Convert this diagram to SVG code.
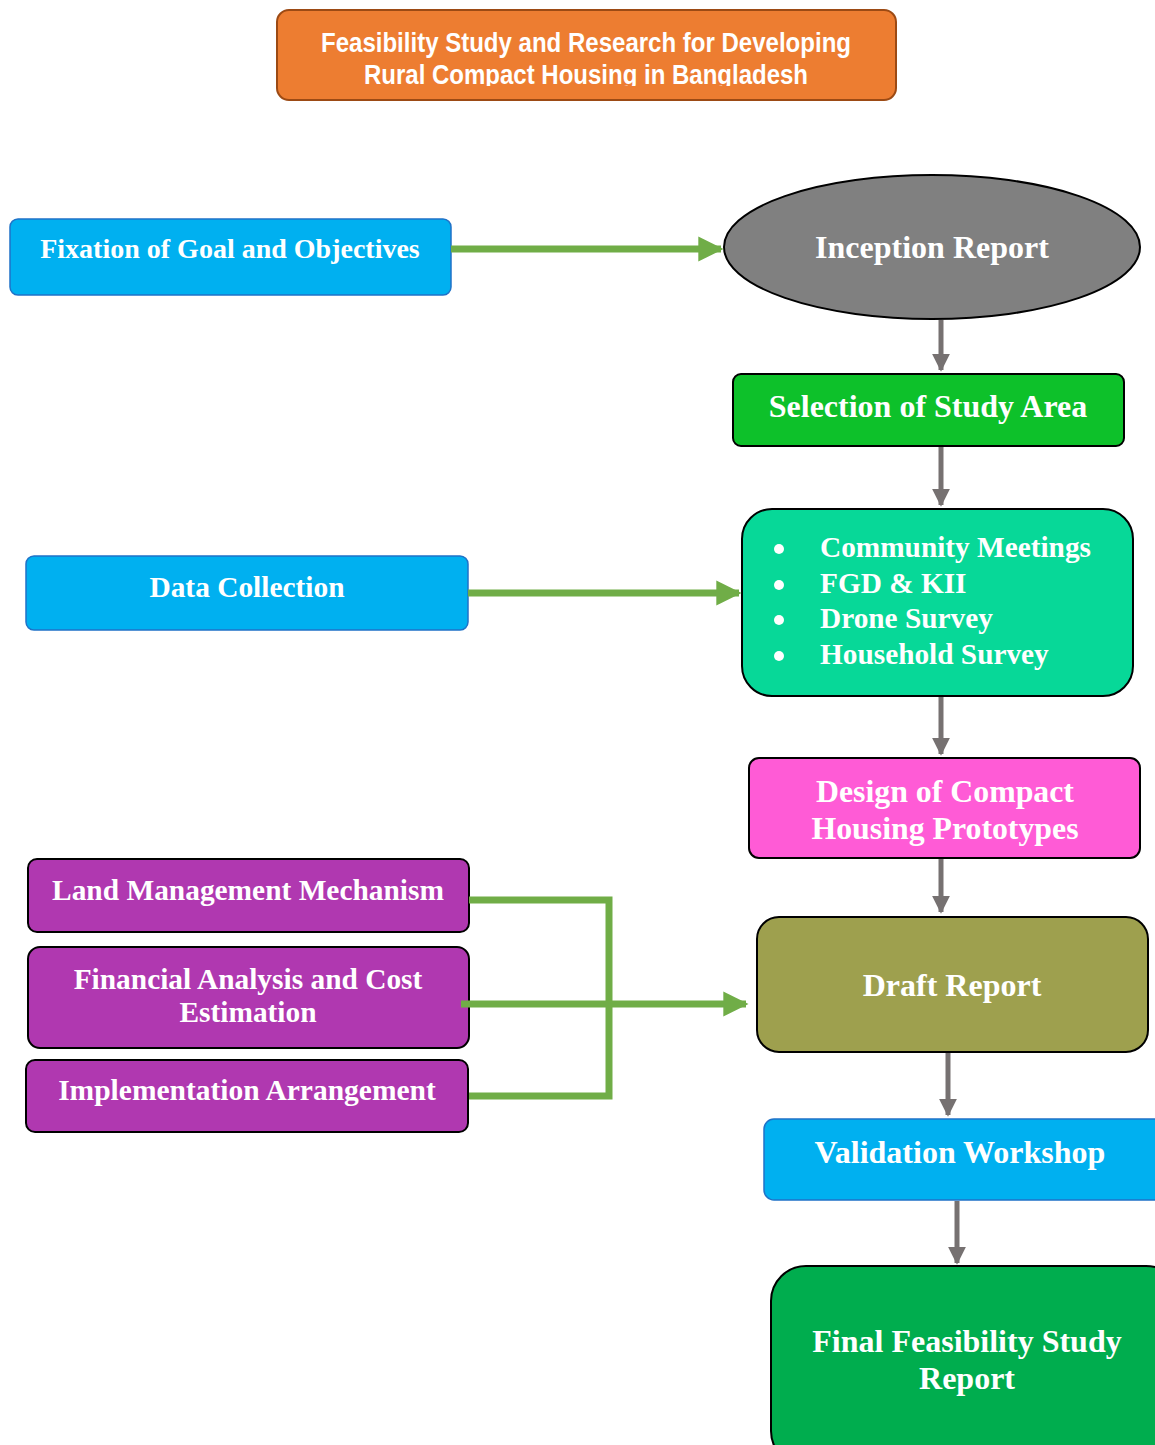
<svg xmlns="http://www.w3.org/2000/svg" width="1155" height="1445" viewBox="0 0 1155 1445">
<defs>
<style>
.t{font-family:"Liberation Serif","Times New Roman",serif;font-weight:bold;fill:#fff;text-anchor:middle}
.g{stroke:#70AD47;stroke-width:7;fill:none}
.k{stroke:#767171;stroke-width:5;fill:none}
.blue{fill:#00B0F0;stroke:#1F72C8;stroke-width:1.5}
.pur{fill:#B038B0;stroke:#000;stroke-width:2}
</style>
<marker id="ag" viewBox="0 0 10 10" refX="9" refY="5" markerWidth="3.6" markerHeight="3.6" orient="auto" markerUnits="strokeWidth"><path d="M0,0L10,5L0,10z" fill="#70AD47"/></marker>
<marker id="ak" viewBox="0 0 10 10" refX="9" refY="5" markerWidth="3.6" markerHeight="3.6" orient="auto" markerUnits="strokeWidth"><path d="M0,0L10,5L0,10z" fill="#767171"/></marker>
<clipPath id="tc"><rect x="277" y="10" width="619" height="76"/></clipPath>
</defs>
<rect width="1155" height="1445" fill="#fff"/>
<g id="title">
<rect x="277" y="10" width="619" height="90" rx="12" fill="#ED7D31" stroke="#9C4A14" stroke-width="2"/>
<g clip-path="url(#tc)" font-family="'Liberation Sans Narrow','Liberation Sans',Arial,sans-serif" font-weight="bold" font-size="27" fill="#fff" text-anchor="middle">
<text x="586" y="52" textLength="530" lengthAdjust="spacingAndGlyphs">Feasibility Study and Research for Developing</text>
<text x="586" y="84" textLength="444" lengthAdjust="spacingAndGlyphs">Rural Compact Housing in Bangladesh</text>
</g>
</g>
<g id="fixation">
<rect class="blue" x="10" y="219" width="441" height="76" rx="8"/>
<text class="t" x="230" y="258" font-size="28">Fixation of Goal and Objectives</text>
</g>
<g id="inception">
<ellipse cx="932" cy="247" rx="208" ry="72" fill="#808080" stroke="#000" stroke-width="2"/>
<text class="t" x="932" y="258" font-size="32">Inception Report</text>
</g>
<g id="selection">
<rect x="733" y="374" width="391" height="72" rx="8" fill="#0DC12A" stroke="#000" stroke-width="2"/>
<text class="t" x="928" y="417" font-size="32">Selection of Study Area</text>
</g>
<g id="methods">
<rect x="742" y="509" width="391" height="187" rx="30" fill="#07D898" stroke="#000" stroke-width="2"/>
<g fill="#fff"><circle cx="779" cy="549" r="5"/><circle cx="779" cy="585" r="5"/><circle cx="779" cy="620" r="5"/><circle cx="779" cy="656" r="5"/></g>
<g class="t" style="text-anchor:start" font-size="29.3">
<text x="820" y="557">Community Meetings</text>
<text x="820" y="593">FGD &amp; KII</text>
<text x="820" y="628">Drone Survey</text>
<text x="820" y="664">Household Survey</text>
</g>
</g>
<g id="data-collection">
<rect class="blue" x="26" y="556" width="442" height="74" rx="8"/>
<text class="t" x="247" y="597" font-size="29.4">Data Collection</text>
</g>
<g id="design">
<rect x="749" y="758" width="391" height="100" rx="10" fill="#FF5BD6" stroke="#000" stroke-width="2"/>
<text class="t" x="945" y="802" font-size="31.8">Design of Compact</text>
<text class="t" x="945" y="839" font-size="31.8">Housing Prototypes</text>
</g>
<g id="land">
<rect class="pur" x="28" y="859" width="441" height="73" rx="9"/>
<text class="t" x="248" y="900" font-size="29.4">Land Management Mechanism</text>
</g>
<g id="financial">
<rect class="pur" x="28" y="947" width="441" height="101" rx="12"/>
<text class="t" x="248" y="989" font-size="29.4">Financial Analysis and Cost</text>
<text class="t" x="248" y="1022" font-size="29.4">Estimation</text>
</g>
<g id="implementation">
<rect class="pur" x="26" y="1060" width="442" height="72" rx="9"/>
<text class="t" x="247" y="1100" font-size="29.5">Implementation Arrangement</text>
</g>
<g id="draft">
<rect x="757" y="917" width="391" height="135" rx="22" fill="#9EA04E" stroke="#000" stroke-width="2"/>
<text class="t" x="952" y="996" font-size="32">Draft Report</text>
</g>
<g id="validation">
<rect class="blue" x="764" y="1119" width="405" height="81" rx="10"/>
<text class="t" x="960" y="1163" font-size="32">Validation Workshop</text>
</g>
<g id="final">
<rect x="771" y="1266" width="410" height="200" rx="35" fill="#00AD4E" stroke="#000" stroke-width="2"/>
<text class="t" x="967" y="1352" font-size="32">Final Feasibility Study</text>
<text class="t" x="967" y="1389" font-size="32">Report</text>
</g>
<g id="connectors">
<path class="g" d="M451,249H721" marker-end="url(#ag)"/>
<path class="g" d="M468,593H739" marker-end="url(#ag)"/>
<path class="g" d="M469,900H609V1096H469"/>
<path class="g" d="M461,1004H746" marker-end="url(#ag)"/>
<path class="k" d="M941,320V370" marker-end="url(#ak)"/>
<path class="k" d="M941,447V505" marker-end="url(#ak)"/>
<path class="k" d="M941,697V754" marker-end="url(#ak)"/>
<path class="k" d="M941,859V912" marker-end="url(#ak)"/>
<path class="k" d="M948,1053V1115" marker-end="url(#ak)"/>
<path class="k" d="M957,1201V1263" marker-end="url(#ak)"/>
</g>
</svg>
